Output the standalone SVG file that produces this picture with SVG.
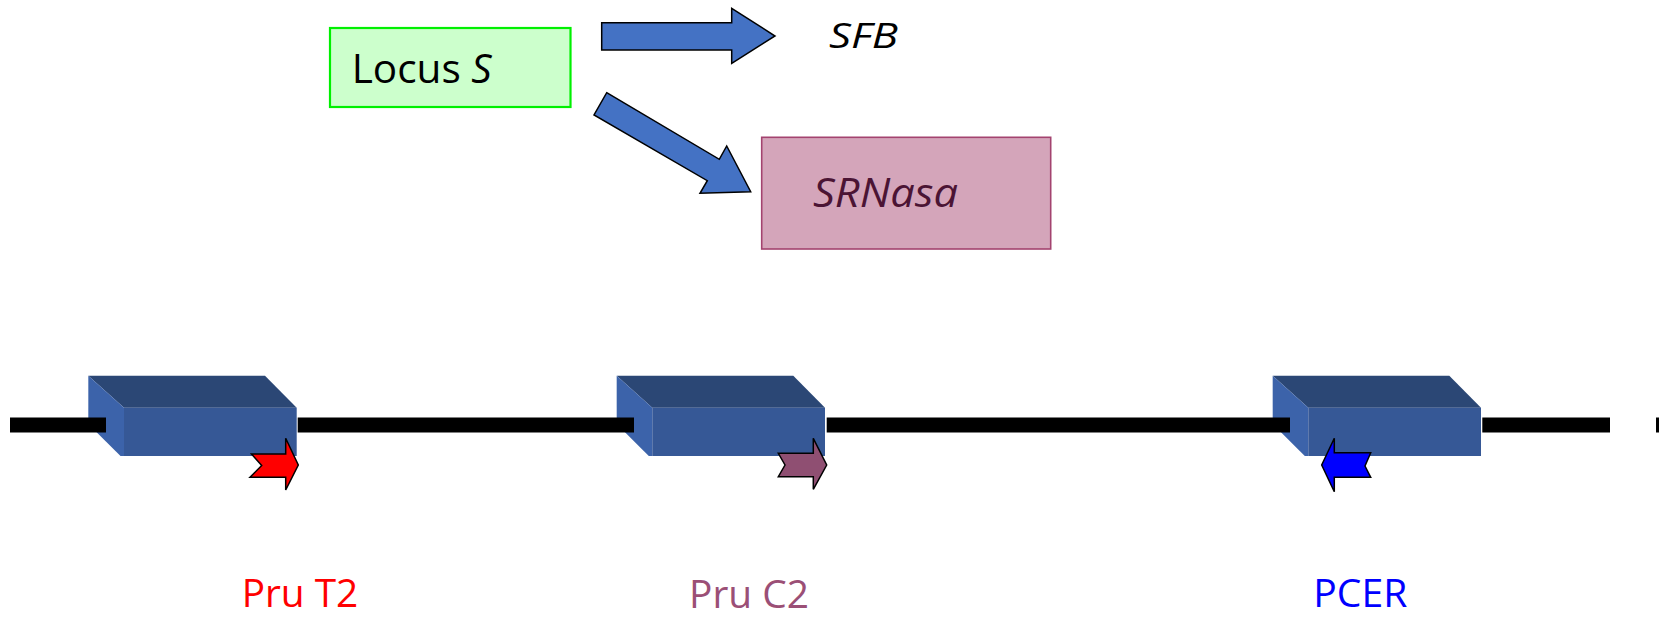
<svg xmlns="http://www.w3.org/2000/svg" width="1659" height="620" viewBox="0 0 1659 620">
<style>
.txt{font-family:"Open Sans","Liberation Sans",sans-serif;}
.it{font-style:italic;}
.bigarrow{fill:#4472c4;stroke:#000;stroke-width:1.5;stroke-linejoin:miter;}
.small{stroke:#000;stroke-width:1.5;stroke-linejoin:miter;}
.top{fill:#2b4775;}
.front{fill:#365896;}
.left{fill:#3c63aa;}
.dna{fill:#000;}
</style>
<rect width="1659" height="620" fill="#fff"/>

<g id="locusS">
<rect x="330" y="28" width="240.5" height="79" fill="#ccffcc" stroke="#00f000" stroke-width="2.2"/>
<text class="txt" x="351.7" y="82.7" font-size="41" fill="#000" textLength="140" lengthAdjust="spacingAndGlyphs">Locus <tspan class="it">S</tspan></text>
</g>

<g id="sfb">
<text class="txt it" x="829" y="48.3" font-size="35" fill="#000" textLength="69" lengthAdjust="spacingAndGlyphs">SFB</text>
</g>

<g id="srnasa">
<rect x="761.7" y="137.3" width="289" height="111.7" fill="#d4a5ba" stroke="#a3436f" stroke-width="1.6"/>
<text class="txt it" x="813" y="206.7" font-size="40" fill="#4b1434" textLength="145" lengthAdjust="spacingAndGlyphs">SRNasa</text>
</g>

<g id="connectors">
<polygon class="bigarrow" points="601.7,22.7 731.7,22.7 731.7,8.3 775,36 731.7,63.3 731.7,50 601.7,50"/>
<polygon class="bigarrow" points="606.7,92.7 719.3,159.3 726.7,146 750.7,191.7 700,193.3 707.3,180.7 594,115"/>
</g>

<g id="gene1">
<polygon class="top" points="88.3,375.7 265,375.7 296.7,407.7 124,407.7"/>
<polygon class="left" points="88.3,375.7 124,407.7 124,456 120.5,456 88.3,424"/>
<rect class="front" x="124" y="407.7" width="172.7" height="48.3"/>
</g>
<g id="gene2">
<polygon class="top" points="616.7,375.7 793.3,375.7 825,407.7 652.3,407.7"/>
<polygon class="left" points="616.7,375.7 652.3,407.7 652.3,456 648.8,456 616.7,424"/>
<rect class="front" x="652.3" y="407.7" width="172.7" height="48.3"/>
</g>
<g id="gene3">
<polygon class="top" points="1272.7,375.7 1449.3,375.7 1481,407.7 1308.3,407.7"/>
<polygon class="left" points="1272.7,375.7 1308.3,407.7 1308.3,456 1304.8,456 1272.7,424"/>
<rect class="front" x="1308.3" y="407.7" width="172.7" height="48.3"/>
</g>

<g id="dnaLine">
<rect class="dna" x="10" y="417.5" width="96" height="15"/>
<rect class="dna" x="297.7" y="417.5" width="336.3" height="15"/>
<rect class="dna" x="826.7" y="417.5" width="463.3" height="15"/>
<rect class="dna" x="1482.3" y="417.5" width="127.7" height="15"/>
<rect class="dna" x="1656" y="417.5" width="3" height="15"/>
</g>

<g id="arrowT2">
<polygon class="small" fill="#ff0000" points="251.5,454 285.7,454 285.7,438.3 298.3,465 285.7,490 285.7,477.3 250,477.3 261.7,465.5"/>
</g>
<g id="arrowC2">
<polygon class="small" fill="#8f4f72" points="778.3,453.3 813.3,453.3 813.3,438.3 826.7,465 813.3,489.3 813.3,476.7 778.3,476.7 785,465"/>
</g>
<g id="arrowPCER">
<polygon class="small" fill="#0000ff" points="1370.7,452.7 1334.3,452.7 1334.3,438.3 1321.7,465 1334.3,491.7 1334.3,477.3 1370.7,477.3 1365,466"/>
</g>

<g id="labelT2">
<text class="txt" x="241.7" y="606.7" font-size="39" fill="#ff0000" textLength="116.6" lengthAdjust="spacingAndGlyphs">Pru T2</text>
</g>
<g id="labelC2">
<text class="txt" x="689" y="608.3" font-size="39" fill="#9b4f76" textLength="120" lengthAdjust="spacingAndGlyphs">Pru C2</text>
</g>
<g id="labelPCER">
<text class="txt" x="1313.3" y="606.7" font-size="39" fill="#0000ff" textLength="94" lengthAdjust="spacingAndGlyphs">PCER</text>
</g>
</svg>
